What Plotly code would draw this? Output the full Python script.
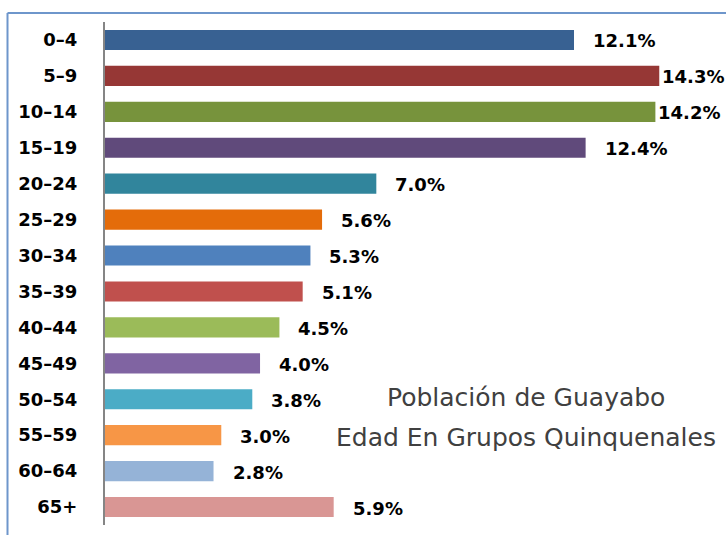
import plotly.graph_objects as go

categories = ["0–4", "5–9", "10–14", "15–19", "20–24", "25–29", "30–34",
              "35–39", "40–44", "45–49", "50–54", "55–59", "60–64", "65+"]
values = [12.1, 14.3, 14.2, 12.4, 7.0, 5.6, 5.3, 5.1, 4.5, 4.0, 3.8, 3.0, 2.8, 5.9]
colors = ["#386192", "#963735", "#77933C", "#604A7B", "#31859C", "#E46C0A", "#4F81BD",
          "#C0504D", "#9BBB59", "#8064A2", "#4BACC6", "#F79646", "#95B3D7", "#D99694"]
title_lines = ["Población de Guayabo", "Edad En Grupos Quinquenales"]

W, H = 726, 535
L, R, T, B = 105, 0, 22, 10
pw, ph = W - L - R, H - T - B
px_per_unit = 38.76
xmax = pw / px_per_unit

fig = go.Figure(go.Bar(
    x=values, y=categories, orientation="h",
    marker=dict(color=colors, line=dict(width=0)),
    hoverinfo="skip",
))

label_font = dict(family="DejaVu Sans", size=18, color="#000000")
for c, v in zip(categories, values):
    shift = 17 if v < 14 else 1
    fig.add_annotation(x=v, y=c, xref="x", yref="y", text=f"<b>{v:.1f}%</b>",
                       showarrow=False, xanchor="left", yanchor="middle",
                       xshift=shift, yshift=-1, font=label_font)

def px_x(p):
    return (p - L) / pw

def px_y(p):
    return (H - B - p) / ph

for t, yc in zip(title_lines, [397, 437]):
    fig.add_annotation(x=px_x(526), y=px_y(yc), xref="paper", yref="paper", text=t,
                       showarrow=False, xanchor="center", yanchor="middle",
                       font=dict(family="DejaVu Sans", size=25, color="#404040"))

border = "#6E96CB"
fig.add_shape(type="line", xref="paper", yref="paper",
              x0=px_x(7.5), x1=px_x(7.5), y0=px_y(540), y1=px_y(13),
              line=dict(color=border, width=2))
fig.add_shape(type="line", xref="paper", yref="paper",
              x0=px_x(7.5), x1=px_x(730), y0=px_y(13), y1=px_y(13),
              line=dict(color=border, width=2))

fig.update_layout(
    width=W, height=H,
    margin=dict(l=L, r=R, t=T, b=B),
    paper_bgcolor="#FFFFFF", plot_bgcolor="#FFFFFF",
    bargap=0.44, showlegend=False,
    xaxis=dict(range=[0, xmax], visible=False, fixedrange=True),
    yaxis=dict(autorange="reversed", showline=True, linecolor="#858585", linewidth=2,
               showgrid=False, zeroline=False, ticks="", ticklabelstandoff=22,
               tickfont=dict(family="DejaVu Sans", size=18, color="#000000"),
               tickprefix="<b>", ticksuffix="</b>", fixedrange=True),
)

fig.write_html("out.html", config={"displayModeBar": False},
               post_script="document.body.style.margin='0';document.body.style.overflow='hidden';")
